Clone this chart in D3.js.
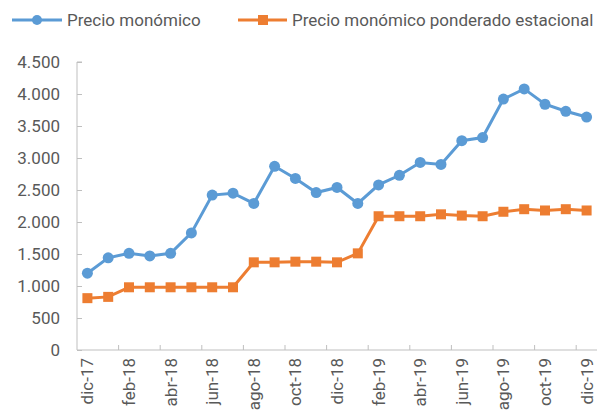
<!DOCTYPE html>
<html>
<head>
<meta charset="utf-8">
<script src="https://cdn.jsdelivr.net/npm/d3@7"></script>
<style>
  body{margin:0;background:#fff;}
  text{font-family:Roboto,"Liberation Sans",sans-serif;fill:#595959;}
</style>
</head>
<body>
<div id="chart"></div>
<script>
// months dic-17 .. dic-19
const months=["dic-17","ene-18","feb-18","mar-18","abr-18","may-18","jun-18","jul-18","ago-18","sep-18","oct-18","nov-18","dic-18",
  "ene-19","feb-19","mar-19","abr-19","may-19","jun-19","jul-19","ago-19","sep-19","oct-19","nov-19","dic-19"];
const precio=[1200,1440,1510,1470,1510,1830,2420,2450,2290,2870,2680,2460,2540,
  2290,2580,2730,2930,2900,3270,3320,3920,4080,3840,3730,3640];
const ponderado=[810,830,980,980,980,980,980,980,1370,1370,1380,1380,1370,
  1510,2090,2090,2090,2120,2100,2090,2160,2200,2180,2200,2180];
const yTicks=[0,500,1000,1500,2000,2500,3000,3500,4000,4500];
const seriesNames=["Precio monómico","Precio monómico ponderado estacional"];

const width=608,height=410;
const margin={top:62,right:11,bottom:60,left:77};
const blue="#5b9bd5",orange="#ed7d31",axisColor="#bfbfbf";
const fontSize="17px";

const svg=d3.select("#chart").append("svg")
  .attr("width",width)
  .attr("height",height);

const x=d3.scaleBand()
  .domain(months)
  .range([margin.left,width-margin.right]);
const y=d3.scaleLinear()
  .domain([0,4500])
  .range([height-margin.bottom,margin.top]);

const fmt=v=>d3.format(",")(v).replace(/,/g,".");

// y axis, ticks inside
const yAxis=svg.append("g")
  .attr("transform","translate("+margin.left+",0)")
  .call(d3.axisRight(y).tickValues(yTicks).tickSize(5).tickFormat(""));
yAxis.select(".domain").attr("stroke",axisColor).attr("d","M5,"+y(4500)+"H0V"+y(0));
yAxis.selectAll(".tick line").attr("stroke",axisColor);
svg.append("g").selectAll("text")
  .data(yTicks)
  .enter().append("text")
  .attr("x",margin.left-17)
  .attr("y",d=>y(d))
  .attr("dy","0.35em")
  .attr("text-anchor","end")
  .attr("font-size",fontSize)
  .text(fmt);

// x axis, tick marks every 2 months between categories
const xAxisG=svg.append("g")
  .attr("transform","translate(0,"+y(0)+")");
xAxisG.append("line")
  .attr("x1",margin.left).attr("x2",width-margin.right)
  .attr("stroke",axisColor);
const tickPos=months.filter((d,i)=>i%2===0 && i>0).map(d=>x(d));
xAxisG.selectAll(".tk")
  .data(tickPos)
  .enter().append("line")
  .attr("x1",d=>d).attr("x2",d=>d)
  .attr("y1",0).attr("y2",-5)
  .attr("stroke",axisColor);
xAxisG.selectAll(".lbl")
  .data(months.filter((d,i)=>i%2===0))
  .enter().append("text")
  .attr("transform",d=>"translate("+(x(d)+x.bandwidth()/2)+",8) rotate(-90)")
  .attr("dy","0.35em")
  .attr("text-anchor","end")
  .attr("font-size",fontSize)
  .text(d=>d);

const line=d3.line()
  .x((d,i)=>x(months[i])+x.bandwidth()/2)
  .y(d=>y(d));

// orange series
svg.append("path")
  .datum(ponderado)
  .attr("fill","none")
  .attr("stroke",orange)
  .attr("stroke-width",3)
  .attr("d",line);
svg.append("g").selectAll("rect")
  .data(ponderado)
  .enter().append("rect")
  .attr("x",(d,i)=>x(months[i])+x.bandwidth()/2-5)
  .attr("y",d=>y(d)-5)
  .attr("width",10).attr("height",10)
  .attr("fill",orange);

// blue series
svg.append("path")
  .datum(precio)
  .attr("fill","none")
  .attr("stroke",blue)
  .attr("stroke-width",3)
  .attr("d",line);
svg.append("g").selectAll("circle")
  .data(precio)
  .enter().append("circle")
  .attr("cx",(d,i)=>x(months[i])+x.bandwidth()/2)
  .attr("cy",d=>y(d))
  .attr("r",5.5)
  .attr("fill",blue);

// legend
const legend=svg.append("g").attr("transform","translate(0,20)");
legend.append("line").attr("x1",12).attr("x2",62).attr("stroke",blue).attr("stroke-width",3);
legend.append("circle").attr("cx",37).attr("r",5).attr("fill",blue);
legend.append("text").attr("x",67).attr("dy","0.35em").attr("font-size",fontSize).text(seriesNames[0]);
legend.append("line").attr("x1",238).attr("x2",287).attr("stroke",orange).attr("stroke-width",3);
legend.append("rect").attr("x",258).attr("y",-5).attr("width",10).attr("height",10).attr("fill",orange);
legend.append("text").attr("x",292).attr("dy","0.35em").attr("font-size",fontSize).text(seriesNames[1]);
</script>
</body>
</html>
